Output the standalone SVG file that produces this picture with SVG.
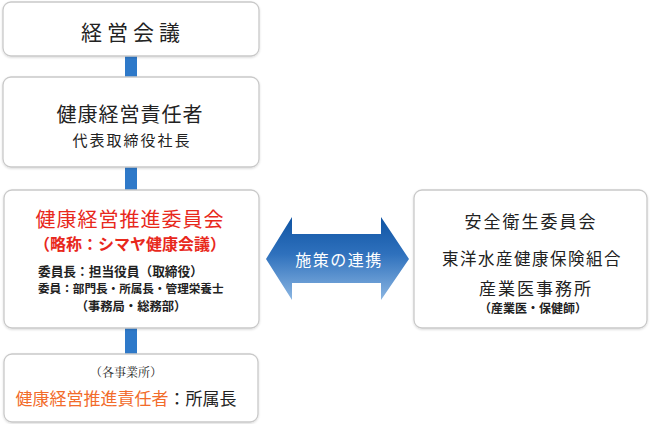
<svg xmlns="http://www.w3.org/2000/svg" width="650" height="424" viewBox="0 0 650 424">
<defs>
<linearGradient id="ag" x1="0" y1="0" x2="0" y2="1">
<stop offset="0" stop-color="#0f54a3"/>
<stop offset="0.45" stop-color="#2f71bd"/>
<stop offset="1" stop-color="#8bb6e2"/>
</linearGradient>
<filter id="sh" x="-5%" y="-5%" width="110%" height="115%">
<feDropShadow dx="0" dy="1" stdDeviation="0.8" flood-color="#000" flood-opacity="0.15"/>
</filter>
<style>
.box{fill:#fff;stroke:#c9c9c9;stroke-width:1.3;filter:url(#sh)}
.conn{fill:#2e79c9}
text{font-family:"Noto Sans CJK JP","Noto Sans CJK SC",sans-serif;text-anchor:middle;fill:#222}
.red{fill:#e8281c}
.org{fill:#f26c2b}
.b{font-weight:bold}
.ser{font-family:"Noto Serif CJK JP","Liberation Serif","Noto Sans CJK JP",serif}
</style>
</defs>
<g id="connectors">
<rect class="conn" x="125" y="56" width="12" height="22"/>
<rect class="conn" x="125" y="167" width="12" height="24"/>
<rect class="conn" x="125" y="328" width="12" height="27"/>
<g id="arrow">
<polygon points="266,259 292,217 292,234 381,234 381,217 409,259 381,300 381,283 292,283 292,300" fill="url(#ag)"/>
<text x="339" y="266" font-size="16" fill="#fff" style="fill:#fff;letter-spacing:1.5px">施策の連携</text>
</g>
</g>
<g id="n1">
<rect class="box" x="3" y="2" width="256" height="54" rx="8"/>
<text x="133" y="40" font-size="21" style="letter-spacing:5px">経営会議</text>
</g>
<g id="n2">
<rect class="box" x="3" y="77" width="256" height="90" rx="8"/>
<text x="130" y="122" font-size="20" style="letter-spacing:1px">健康経営責任者</text>
<text x="132" y="146" font-size="15" style="letter-spacing:2px">代表取締役社長</text>
</g>
<g id="n3">
<rect class="box" x="4" y="190" width="255" height="138" rx="8"/>
<text class="red" x="130" y="227" font-size="20" style="letter-spacing:1px">健康経営推進委員会</text>
<text class="red b" x="130" y="250" font-size="16">（略称：シマヤ健康会議）</text>
<text class="b" x="38" y="276" font-size="12.7" style="text-anchor:start">委員長：担当役員（取締役）</text>
<text class="b" x="38" y="293" font-size="11.6" style="text-anchor:start">委員：部門長・所属長・管理栄養士</text>
<text class="b" x="131" y="311" font-size="12.3">（事務局・総務部）</text>
</g>
<g id="n4">
<rect class="box" x="4" y="354" width="254" height="68" rx="8"/>
<text class="ser" x="126" y="377" font-size="12">（各事業所）</text>
<text x="126" y="405" font-size="17"><tspan class="org">健康経営推進責任者</tspan>：所属長</text>
</g>
<g id="n5">
<rect class="box" x="414" y="190" width="233" height="138" rx="8"/>
<text x="531" y="228" font-size="17" style="letter-spacing:2px">安全衛生委員会</text>
<text x="532" y="265" font-size="16.5" style="letter-spacing:1.5px">東洋水産健康保険組合</text>
<text x="536" y="295" font-size="17" style="letter-spacing:2px">産業医事務所</text>
<text class="b" x="533" y="313" font-size="12">（産業医・保健師）</text>
</g>
</svg>
